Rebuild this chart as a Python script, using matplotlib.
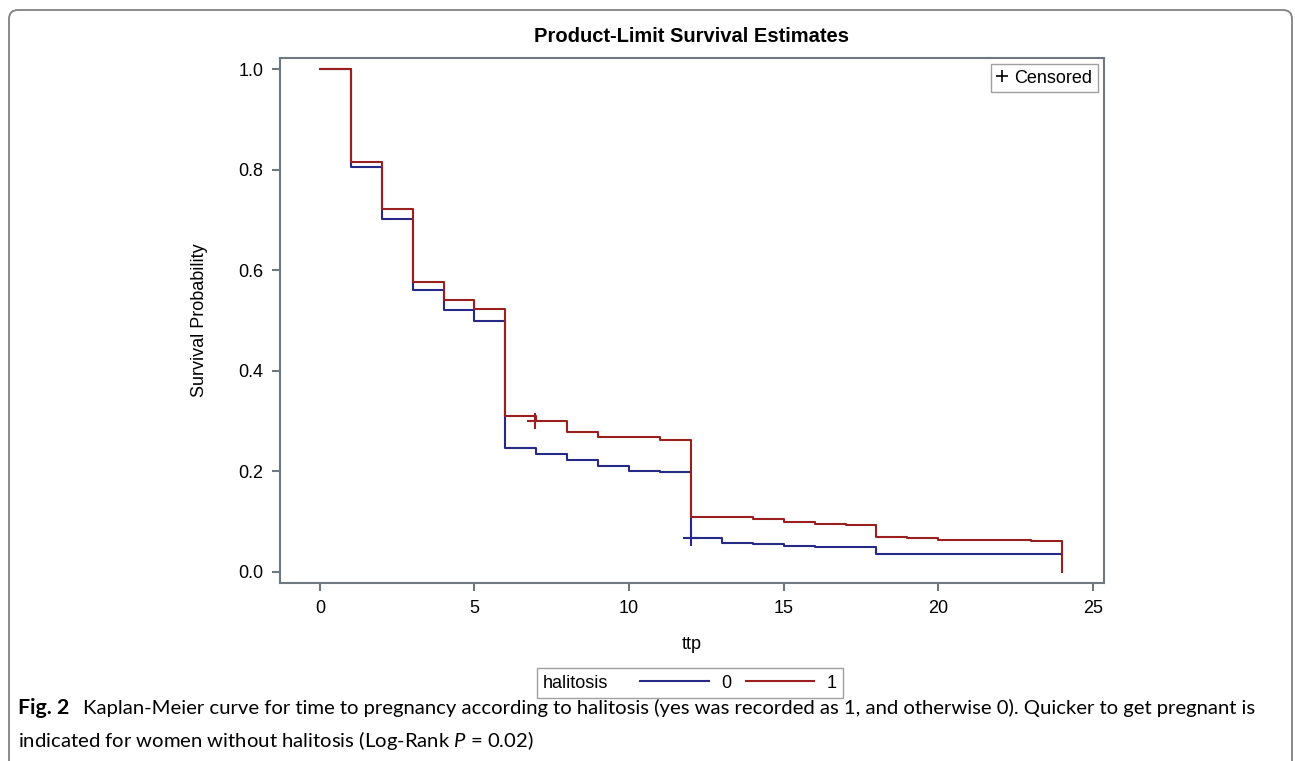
import matplotlib
matplotlib.use("Agg")
import matplotlib.pyplot as plt
from matplotlib.lines import Line2D
from matplotlib.patches import FancyBboxPatch
from matplotlib.offsetbox import HPacker

# Kaplan-Meier steps
t0 = [0, 1, 2, 3, 4, 5, 6, 7, 8, 9, 10, 11, 12, 13, 14, 15, 16, 18, 24]
s0 = [1.0, 0.806, 0.702, 0.561, 0.520, 0.500, 0.246, 0.235, 0.222, 0.211,
      0.201, 0.199, 0.067, 0.058, 0.055, 0.052, 0.050, 0.035, 0.035]
t1 = [0, 1, 2, 3, 4, 5, 6, 7, 8, 9, 11, 12, 14, 15, 16, 17, 18, 19, 20, 23, 24]
s1 = [1.0, 0.815, 0.722, 0.577, 0.541, 0.523, 0.310, 0.301, 0.278, 0.269,
      0.262, 0.109, 0.105, 0.099, 0.096, 0.093, 0.070, 0.068, 0.064, 0.061, 0.0]
# censored observations
cens0_t, cens0_s = [12], [0.067]
cens1_t, cens1_s = [6.95], [0.301]

blue = "#262a86"
red = "#9c1f1f"
grey = "#6f7880"

plt.rcParams["font.family"] = ["Liberation Sans", "DejaVu Sans"]
plt.rcParams["mathtext.fontset"] = "custom"
plt.rcParams["mathtext.it"] = "Lato:italic"
plt.rcParams["mathtext.rm"] = "Lato"

fig = plt.figure(figsize=(12.95, 7.61), dpi=100)
ax = fig.add_axes([280 / 1295, 1 - 583 / 761, 824 / 1295, 525 / 761])

ax.step(t0, s0, where="post", color=blue, lw=1.5)
ax.step(t1, s1, where="post", color=red, lw=1.5)
ax.plot(cens0_t, cens0_s, ls="none", marker="+", ms=11, mew=1.5, color=blue)
ax.plot(cens1_t, cens1_s, ls="none", marker="+", ms=11, mew=1.5, color=red)

ax.set_xlim(-1.29, 25.36)
ax.set_ylim(-0.0219, 1.022)
ax.set_xticks([0, 5, 10, 15, 20, 25])
ax.set_yticks([0.0, 0.2, 0.4, 0.6, 0.8, 1.0])
ax.set_yticklabels(["0.0", "0.2", "0.4", "0.6", "0.8", "1.0"])
for sp in ax.spines.values():
    sp.set_color(grey)
    sp.set_linewidth(1.5)
ax.tick_params(colors=grey, length=6, width=1.5, labelsize=13, labelcolor="black", pad=6)

ax.set_xlabel("ttp", fontsize=13)
ax.set_ylabel("Survival Probability", fontsize=13)
ax.xaxis.set_label_coords(0.5, -0.101)
ax.yaxis.set_label_coords(-0.0874, 0.5)

leg_c = ax.legend(handles=[Line2D([], [], ls="none", marker="+", ms=9, mew=1.2, color="black")],
                  labels=["Censored"], loc="upper right", fontsize=13,
                  handlelength=0.6, handletextpad=0.4, borderpad=0.3,
                  borderaxespad=0.35, fancybox=False, framealpha=1)
leg_c.get_frame().set_edgecolor("#a0a0a0")
leg_c.get_frame().set_linewidth(1)

leg = fig.legend(handles=[Line2D([], [], color=blue, lw=1.5), Line2D([], [], color=red, lw=1.5)],
                 labels=["0", "1"], title="halitosis", ncol=2, loc="center",
                 bbox_to_anchor=(690 / 1295, 1 - 683 / 761), fontsize=13, title_fontsize=13,
                 handlelength=3.8, handletextpad=0.7, columnspacing=0.8,
                 labelspacing=1.75, borderpad=0.35, fancybox=False, framealpha=1)
leg._legend_box.__class__ = HPacker
leg.get_frame().set_edgecolor("#a0a0a0")
leg.get_frame().set_linewidth(1)

fig.text(692 / 1295, 1 - 37 / 761, "Product-Limit Survival Estimates",
         ha="center", va="center", fontsize=14.5, fontweight="bold")

# card border (display pixels, origin bottom-left)
fig.patches.append(FancyBboxPatch((9, -20), 1283, 771, boxstyle="round,pad=0,rounding_size=9",
                                  transform=None, fill=False, edgecolor="#808080", lw=1.3))

cap_size = 14.6
fig.text(18 / 1295, 1 - 708 / 761, "Fig. 2", family="Lato", fontweight="bold",
         fontsize=cap_size + 0.8, ha="left", va="center")
fig.text(83 / 1295, 1 - 708 / 761,
         "Kaplan-Meier curve for time to pregnancy according to halitosis (yes was recorded as 1, "
         "and otherwise 0). Quicker to get pregnant is",
         family="Lato", fontsize=cap_size, ha="left", va="center")
fig.text(18 / 1295, 1 - 740 / 761,
         r"indicated for women without halitosis (Log-Rank $P$ = 0.02)",
         family="Lato", fontsize=cap_size, ha="left", va="center")

fig.savefig("out.png", dpi=100)
